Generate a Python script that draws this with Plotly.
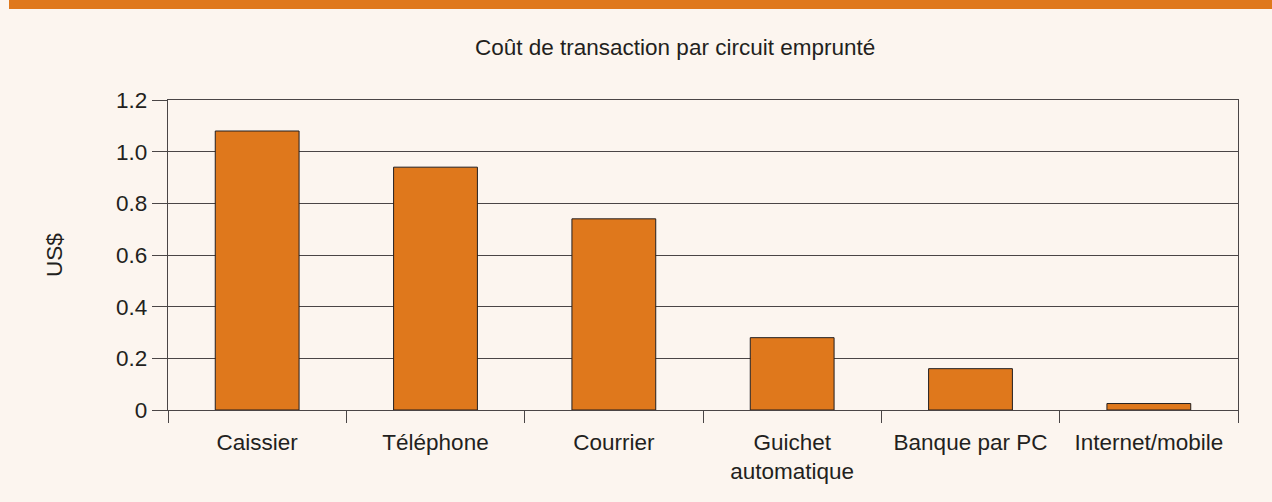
import plotly.graph_objects as go

categories = ["Caissier", "Téléphone", "Courrier", "Guichet<br>automatique", "Banque par PC", "Internet/mobile"]
values = [1.08, 0.94, 0.74, 0.28, 0.16, 0.025]
ytick_vals = [0, 0.2, 0.4, 0.6, 0.8, 1.0, 1.2]
ytick_text = ["0", "0.2", "0.4", "0.6", "0.8", "1.0", "1.2"]

orange = "#DF781C"
bg = "#FCF5EF"
ink = "#231F20"
grid = "#4A4546"
FS = 22.5

fig = go.Figure(go.Bar(
    x=categories, y=values,
    marker=dict(color=orange, line=dict(color=ink, width=1)),
))

W, H = 1272, 502
L, R, T, B = 168, 34, 100, 92
pw, ph = W - L - R, H - T - B

def px(xp):
    return (xp - L) / pw

def py(yp):
    return (H - B - yp) / ph

fig.update_layout(
    width=W, height=H,
    margin=dict(l=L, r=R, t=T, b=B),
    paper_bgcolor=bg, plot_bgcolor=bg,
    font=dict(family="Liberation Sans, Arial, sans-serif", size=FS, color=ink),
    bargap=0.53,
    showlegend=False,
    xaxis=dict(
        tickson="boundaries", ticks="outside", ticklen=12, tickwidth=1.3, tickcolor=grid,
        showline=True, linecolor=grid, linewidth=1.3, mirror=True,
        showgrid=False, tickfont=dict(size=FS, color=ink), ticklabelstandoff=12,
    ),
    yaxis=dict(
        range=[0, 1.2], tickvals=ytick_vals, ticktext=ytick_text,
        ticks="outside", ticklen=15, tickwidth=1.3, tickcolor=grid,
        showline=True, linecolor=grid, linewidth=1.3, mirror=True,
        showgrid=True, gridcolor=grid, gridwidth=1.3, zeroline=False,
        tickfont=dict(size=FS, color=ink),
    ),
    shapes=[dict(type="rect", xref="paper", yref="paper",
                 x0=px(9), x1=px(W + 5), y0=py(9), y1=py(-5),
                 fillcolor=orange, line=dict(width=0), layer="above")],
    annotations=[
        dict(text="Coût de transaction par circuit emprunté", xref="paper", yref="paper",
             x=px(675), y=py(47), showarrow=False, xanchor="center", yanchor="middle",
             font=dict(size=FS, color=ink)),
        dict(text="US$", xref="paper", yref="paper", x=px(54), y=py(255),
             showarrow=False, textangle=-90, xanchor="center", yanchor="middle",
             font=dict(size=FS, color=ink)),
    ],
)

fig.write_html("out.html", config={"displayModeBar": False},
               post_script="document.body.style.margin='0';document.body.style.overflow='hidden';")
